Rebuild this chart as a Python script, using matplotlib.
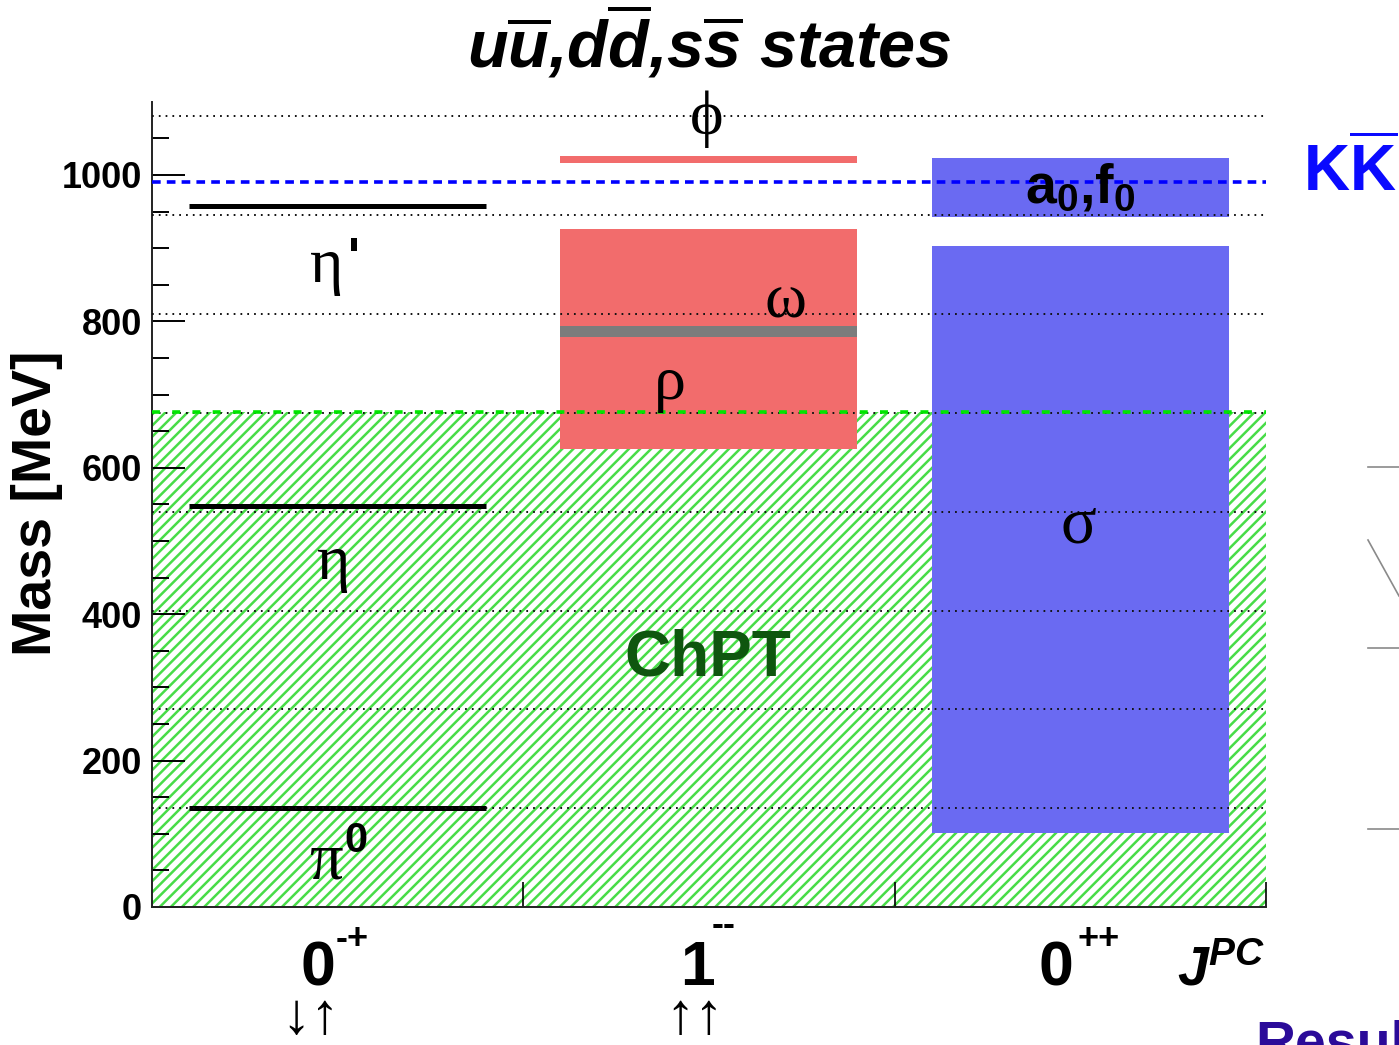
import matplotlib
matplotlib.use("Agg")
import matplotlib.pyplot as plt
from matplotlib.lines import Line2D

plt.rcParams['font.family'] = ['Liberation Sans', 'DejaVu Sans']
plt.rcParams['mathtext.fontset'] = 'custom'
plt.rcParams['mathtext.rm'] = 'Liberation Sans'
plt.rcParams['mathtext.bf'] = 'Liberation Sans:bold'
plt.rcParams['mathtext.it'] = 'Liberation Sans:italic'
plt.rcParams['mathtext.bfit'] = 'Liberation Sans:bold:italic'
plt.rcParams['hatch.linewidth'] = 1.8

# J^PC columns: spin digit + PC superscript
jpc_spin = ['0', '1', '0']
jpc_pc = ['-+', '--', '++']
col_centers = [0.5, 1.5, 2.5]

# pseudoscalars (0-+): pi0, eta, eta'
ps_masses = [135, 548, 958]

# vector states (1--): bands in MeV
rho_band = [625, 926]
omega_band = [779, 794]
phi_band = [1017, 1026]

# scalar states (0++)
sigma_band = [101, 903]
a0f0_band = [943, 1023]

# n-pion thresholds, KKbar threshold, ChPT limit
npi_thresholds = [135, 270, 405, 540, 675, 810, 945, 1080]
kk_threshold = 990
chpt_limit = 676

fig = plt.figure(figsize=(13.99, 10.45), dpi=100)
ax = fig.add_axes([0.1086, 0.1321, 0.7963, 0.7705])
ax.set_xlim(0, 3)
ax.set_ylim(0, 1100)

green = '#48dc48'
red = '#f26c6c'
blue = '#6a6af2'

# ChPT region, hatched
ax.bar(1.5, chpt_limit, width=3, bottom=0, facecolor='none', edgecolor=green,
       hatch='///', linewidth=0, zorder=1)

# resonance boxes
ax.bar(col_centers[1], rho_band[1] - rho_band[0], width=0.8, bottom=rho_band[0],
       color=red, linewidth=0, zorder=2)
ax.bar(col_centers[1], phi_band[1] - phi_band[0], width=0.8, bottom=phi_band[0],
       color=red, linewidth=0, zorder=2)
ax.bar(col_centers[1], omega_band[1] - omega_band[0], width=0.8, bottom=omega_band[0],
       color='#7c7c7c', linewidth=0, zorder=3)
ax.bar(col_centers[2], sigma_band[1] - sigma_band[0], width=0.8, bottom=sigma_band[0],
       color=blue, linewidth=0, zorder=2)
ax.bar(col_centers[2], a0f0_band[1] - a0f0_band[0], width=0.8, bottom=a0f0_band[0],
       color=blue, linewidth=0, zorder=2)

# pseudoscalar mass levels
ax.hlines(ps_masses, 0.1, 0.9, colors='black', linewidth=3.6, zorder=3)

# thresholds
ax.hlines(npi_thresholds, 0, 3, colors='#111111', linewidth=1.4,
          linestyles=(0, (0.9, 2.6)), zorder=4)
ax.plot([0, 3], [chpt_limit, chpt_limit], color='#00e600', linewidth=2.6,
        dashes=(2.2, 3.4), zorder=5)
ax.plot([0, 3], [kk_threshold, kk_threshold], color='#0000ff', linewidth=2.6,
        dashes=(2.4, 1.7), zorder=5)

# axes styling
for side in ['top', 'right']:
    ax.spines[side].set_visible(False)
for side in ['left', 'bottom']:
    ax.spines[side].set_linewidth(1.4)
    ax.spines[side].set_color('#222222')

ax.set_yticks([0, 200, 400, 600, 800, 1000])
ax.set_yticks(list(range(50, 1100, 50)), minor=True)
ax.tick_params(axis='y', which='major', direction='in', length=24, width=1.4,
               pad=7, labelsize=26)
ax.tick_params(axis='y', which='minor', direction='in', length=12, width=1.4)
for lab in ax.get_yticklabels():
    lab.set_fontweight('bold')

ax.set_xticks([1, 2, 3])
ax.set_xticklabels([])
ax.tick_params(axis='x', which='major', direction='in', length=18, width=1.2)

ax.set_ylabel('Mass [MeV]', fontsize=40, fontweight='bold', va='center')
ax.yaxis.set_label_coords(-0.103, 0.502)

# J^PC labels under each column (digit / superscript offsets from column centre)
digit_dx = [-0.053, -0.032, -0.066]
sup_dx = [0.038, 0.040, 0.050]
for xc, spin, pc, ddx, sdx in zip(col_centers, jpc_spin, jpc_pc, digit_dx, sup_dx):
    ax.text(xc + ddx, -107, spin, fontsize=45, fontweight='bold',
            ha='center', va='baseline', clip_on=False)
    sup_y = -26 if pc == '--' else -44
    ax.text(xc + sdx, sup_y, pc, fontsize=26, fontweight='bold',
            ha='center', va='center', clip_on=False)
ax.text(2.88, -107, r'$\mathbfit{J^{PC}}$', fontsize=40, ha='center', va='baseline')

# particle names
greek = ['Liberation Serif', 'DejaVu Serif']
ax.text(0.47, 874, 'η', family=greek, fontsize=46, ha='center', va='center', zorder=6)
ax.text(0.543, 884, "'", fontsize=36, fontweight='bold', ha='center', va='center', zorder=6)
ax.text(0.49, 468, 'η', family=greek, fontsize=46, ha='center', va='center', zorder=6)
ax.text(0.469, 62, 'π', family=greek, fontsize=48, ha='center', va='center', zorder=6)
ax.text(0.55, 90, '0', fontsize=30, fontweight='bold', ha='center', va='center', zorder=6)
ax.text(1.495, 1076, 'ϕ', family=greek, fontsize=46, ha='center', va='center', zorder=6)
ax.text(1.705, 826, 'ω', family=greek, fontsize=46, ha='center', va='center', zorder=6)
ax.text(1.395, 715, 'ρ', family=greek, fontsize=46, ha='center', va='center', zorder=6)
ax.text(2.494, 520, 'σ', family=greek, fontsize=48, ha='center', va='center', zorder=6)
ax.text(2.5, 980, r'$\mathbf{a_0{,}f_0}$', fontsize=40, ha='center', va='center', zorder=6)
ax.text(1.497, 340, 'ChPT', fontsize=46, fontweight='bold', color='#0f560f',
        ha='center', va='center', zorder=6)

# spin configurations
ax.text(0.428, -152, '↓↑', fontsize=42, ha='center', va='center')
ax.text(1.462, -152, '↑↑', fontsize=42, ha='center', va='center')

fig.text(709 / 1399, 1 - 42 / 1045,
         r'$\mathbfit{u\overline{u}{,}d\overline{d}{,}s\overline{s}\ states}$',
         fontsize=48, ha='center', va='center')

# KKbar threshold tag
fig.text(1303 / 1399, 1 - 172 / 1045, r'$\mathbf{K\overline{K}}$', fontsize=46,
         color='#0a0aff', ha='left', va='center')

# neighbouring slide content
fig.text(1255 / 1399, 1 - 1020 / 1045, 'Results', fontsize=40, fontweight='bold',
         color='#2b0b99', ha='left', va='top')
for yy in [467, 648, 829]:
    fig.add_artist(Line2D([1368 / 1399, 1], [1 - yy / 1045, 1 - yy / 1045],
                          color='#8a8a8a', linewidth=1.2))
fig.add_artist(Line2D([1368 / 1399, 1], [1 - 540 / 1045, 1 - 596 / 1045],
                      color='#8a8a8a', linewidth=1.2))

fig.savefig('out.png', dpi=100)
